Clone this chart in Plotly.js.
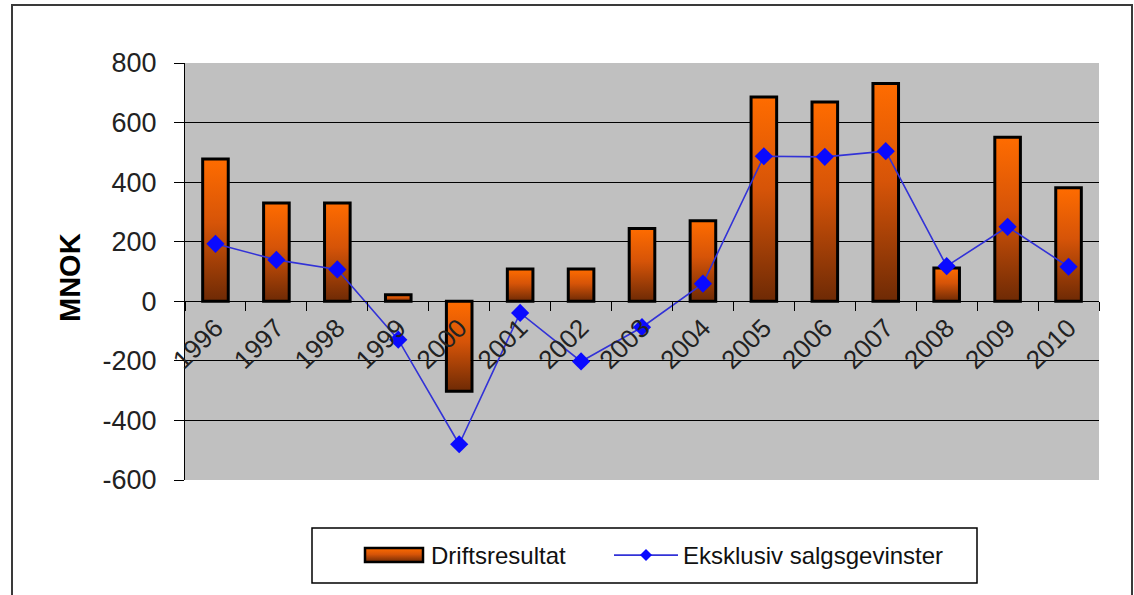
<!DOCTYPE html>
<html>
<head>
<meta charset="utf-8">
<script src="https://cdn.plot.ly/plotly-3.0.1.min.js"></script>
<style>
  html, body { margin: 0; padding: 0; background: #ffffff; }
  #wrap { position: relative; width: 1134px; height: 595px; overflow: hidden; }
  #chart { position: absolute; left: 0; top: 0; width: 1134px; height: 595px; }
  #frame { position: absolute; left: 11px; top: 4px; width: 1122px; height: 600px;
           border: 2px solid #3a3a3a; pointer-events: none; box-sizing: border-box; }
</style>
</head>
<body>
<div id="wrap">
  <div id="chart"></div>
  <div id="frame"></div>
</div>
<script>
const years = ['1996','1997','1998','1999','2000','2001','2002','2003','2004','2005','2006','2007','2008','2009','2010'];
const driftsresultat = [478, 330, 330, 22, -302, 108, 108, 244, 270, 686, 669, 731, 112, 551, 381];
const eksklusivSalgsgevinster = [193, 139, 107, -129, -480, -39, -202, -87, 59, 487, 485, 504, 118, 250, 116];
const yTicks = [-600, -400, -200, 0, 200, 400, 600, 800];

const FONT = 'Liberation Sans, Arial, sans-serif';

// pixel helpers for placing decorations (plot area: x 185..1099, y 63..480)
const PL = 185, PW = 914, PT = 63, PH = 417;
const px = v => (v - PL) / PW;
const py = v => (PT + PH - v) / PH;

const traces = [
  {
    type: 'bar',
    name: 'Driftsresultat',
    x: years,
    y: driftsresultat,
    marker: { color: '#c0500a', line: { color: '#000000', width: 3 } },
    legend: 'legend',
    hoverinfo: 'skip'
  },
  {
    type: 'scatter',
    mode: 'lines+markers',
    name: 'Eksklusiv salgsgevinster',
    x: years,
    y: eksklusivSalgsgevinster,
    line: { color: 'rgb(50,50,215)', width: 1.6 },
    marker: { symbol: 'diamond', size: 14, color: '#0a0aff', line: { width: 0 } },
    legend: 'legend2',
    hoverinfo: 'skip'
  }
];

const legendCommon = {
  orientation: 'h',
  xanchor: 'left',
  yanchor: 'top',
  y: py(533),
  bgcolor: 'rgba(0,0,0,0)',
  borderwidth: 0,
  font: { family: FONT, size: 24, color: '#111111' },
  itemwidth: 64
};

const layout = {
  width: 1134,
  height: 595,
  margin: { l: PL, r: 1134 - PL - PW, t: PT, b: 595 - PT - PH, autoexpand: false },
  paper_bgcolor: 'rgba(0,0,0,0)',
  plot_bgcolor: '#c0c0c0',
  bargap: 0.58,
  showlegend: true,
  font: { family: FONT, color: '#222222' },
  xaxis: {
    type: 'category',
    range: [-0.5, 14.5],
    anchor: 'free',
    position: 600 / 1400,
    showline: true,
    linecolor: '#000000',
    linewidth: 1,
    ticks: 'outside',
    tickson: 'boundaries',
    ticklen: 9,
    tickcolor: '#000000',
    tickwidth: 1,
    tickangle: -45,
    tickfont: { family: FONT, size: 26, color: '#222222' },
    showgrid: false,
    zeroline: false,
    automargin: false,
    fixedrange: true
  },
  yaxis: {
    range: [-600, 800],
    tickvals: yTicks,
    ticktext: yTicks.map(String),
    showline: true,
    linecolor: '#000000',
    linewidth: 1,
    ticks: 'outside',
    ticklen: 10,
    tickcolor: '#000000',
    tickwidth: 1,
    ticklabelstandoff: 12,
    tickfont: { family: FONT, size: 27, color: '#222222' },
    showgrid: true,
    gridcolor: '#000000',
    gridwidth: 1,
    zeroline: false,
    automargin: false,
    fixedrange: true
  },
  legend: Object.assign({}, legendCommon, { x: px(357) }),
  legend2: Object.assign({}, legendCommon, { x: px(609) }),
  annotations: [
    {
      text: '<b>MNOK</b>',
      xref: 'paper', yref: 'paper',
      x: px(70), y: py(278),
      xanchor: 'center', yanchor: 'middle',
      textangle: -90,
      showarrow: false,
      font: { family: FONT, size: 29, color: '#000000' }
    }
  ],
  shapes: [
    {
      type: 'rect', xref: 'paper', yref: 'paper', layer: 'below',
      x0: px(312), x1: px(977), y0: py(528), y1: py(583),
      line: { color: '#000000', width: 1.5 },
      fillcolor: '#ffffff'
    }
  ]
};

Plotly.newPlot('chart', traces, layout, { displayModeBar: false, staticPlot: true }).then(function (gd) {
  const svgNS = 'http://www.w3.org/2000/svg';
  const svg = gd.querySelector('svg.main-svg');
  let defs = svg.querySelector('defs');
  if (!defs) { defs = document.createElementNS(svgNS, 'defs'); svg.insertBefore(defs, svg.firstChild); }
  function addGrad(id) {
    const grad = document.createElementNS(svgNS, 'linearGradient');
    grad.setAttribute('id', id);
    grad.setAttribute('x1', '0'); grad.setAttribute('y1', '0');
    grad.setAttribute('x2', '0'); grad.setAttribute('y2', '1');
    [['0', '#ff6c00'], ['0.45', '#d65408'], ['1', '#6e2a05']].forEach(function (s) {
      const st = document.createElementNS(svgNS, 'stop');
      st.setAttribute('offset', s[0]);
      st.setAttribute('stop-color', s[1]);
      grad.appendChild(st);
    });
    defs.appendChild(grad);
  }
  addGrad('barGrad');
  addGrad('legGrad');
  gd.querySelectorAll('.barlayer .point path').forEach(function (p) {
    p.style.fill = 'url(#barGrad)';
  });
  // legend swatches
  gd.querySelectorAll('.legendpoints path').forEach(function (p) {
    const d = p.getAttribute('d') || '';
    if (d.indexOf('H') >= 0 && !p.classList.contains('scatterpts')) {
      // bar swatch -> wide rectangle like the original
      p.setAttribute('d', 'M29,7H-29V-7H29Z');
      p.style.fill = 'url(#legGrad)';
      p.style.strokeWidth = '2.5px';
    } else if (p.classList.contains('scatterpts')) {
      p.setAttribute('d', 'M6,0L0,6L-6,0L0,-6Z');
    }
  });
});
</script>
</body>
</html>
